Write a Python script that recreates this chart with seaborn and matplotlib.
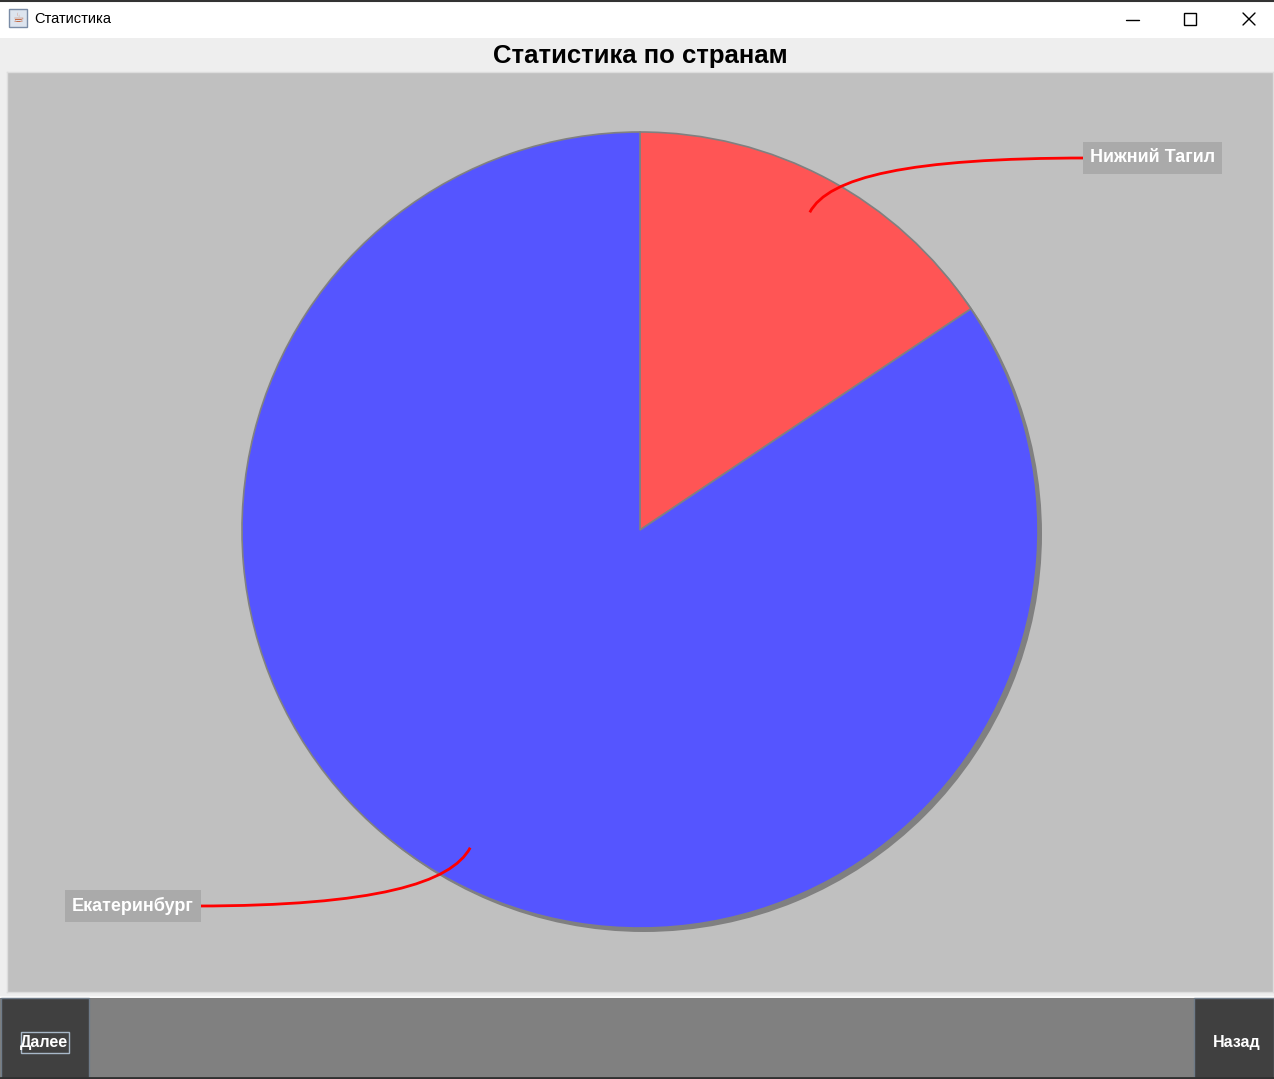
import numpy as np
import pandas as pd
import matplotlib
matplotlib.use("Agg")
import matplotlib.pyplot as plt
import seaborn as sns
from matplotlib.patches import Rectangle, PathPatch
from matplotlib.path import Path

# data
cities = ["Нижний Тагил", "Екатеринбург"]
counts = [5, 27]
slice_colors = ["#ff5555", "#5555ff"]

W, H = 1274, 1079
sns.set_style("white")
plt.rcParams['font.family'] = ['Liberation Sans', 'DejaVu Sans']

df = pd.DataFrame({"city": cities, "count": counts})

fig = plt.figure(figsize=(W / 100, H / 100), dpi=100)

# window chrome (pixel coords, y down)
bg = fig.add_axes([0, 0, 1, 1])
bg.set_xlim(0, W)
bg.set_ylim(H, 0)
bg.axis("off")
bg.add_patch(Rectangle((0, 0), W, H, fc="#eeeeee", ec="none"))
bg.add_patch(Rectangle((0, 0), W, 38, fc="white", ec="none"))
bg.plot([0, W], [0.5, 0.5], color="#333333", lw=1.5)
# java icon
bg.add_patch(Rectangle((9, 9), 18, 18, fc="#dde4ee", ec="#7a8ca6", lw=1))
bg.text(18, 18, "☕", ha="center", va="center", fontsize=9, color="#c05020",
        family=["DejaVu Sans"])
bg.text(34, 19, "Статистика", ha="left", va="center", fontsize=10.5,
        color="black", family=["Liberation Sans"])
# min / max / close
bg.plot([1126, 1139], [19.5, 19.5], color="black", lw=1)
bg.add_patch(Rectangle((1184, 13), 12, 12, fc="none", ec="black", lw=1))
bg.plot([1243, 1255], [13, 25], color="black", lw=1)
bg.plot([1243, 1255], [25, 13], color="black", lw=1)

bg.text(640, 56, "Статистика по странам", ha="center", va="center",
        fontsize=18.5, fontweight="bold", color="black")

# bottom buttons
bg.add_patch(Rectangle((0, 996), W, 2, fc="#f8f8f8", ec="none"))
bg.add_patch(Rectangle((0, 998), W, H - 998, fc="#808080", ec="none"))
bg.add_patch(Rectangle((0.5, 998), 88, H - 999, fc="#404040", ec="#6f7b88", lw=1))
bg.add_patch(Rectangle((1194, 998), W - 1194, H - 999, fc="#404040", ec="#6f7b88", lw=1))
bg.plot([0, W], [1078, 1078], color="#303030", lw=2)
bg.text(44, 1043, "Далее", ha="center", va="center", fontsize=11.5,
        fontweight="bold", color="white")
bg.add_patch(Rectangle((20.5, 1031.5), 48, 21, fc="none", ec="#a8b8c8", lw=1))
bg.text(1237, 1043, "Назад", ha="center", va="center", fontsize=11.5,
        fontweight="bold", color="white")

# plot panel (pixel coords with y up)
x0, x1, ytop, ybot = 7, 1273, 72, 992
ax = fig.add_axes([x0 / W, (H - ybot) / H, (x1 - x0) / W, (ybot - ytop) / H])
ax.set_facecolor("#c0c0c0")
for s in ax.spines.values():
    s.set_color("#dddddd")
    s.set_linewidth(1)


def fy(y):
    return H - y


cx, cy, R = 640, fy(530), 398

# shadow
ax.pie([df["count"].sum()], colors=["#808080"], center=(cx + 4, cy - 4),
       radius=R, frame=True, wedgeprops=dict(edgecolor="none", linewidth=0))
ax.pie(df["count"], colors=slice_colors, center=(cx, cy), radius=R,
       startangle=90, counterclock=False, frame=True,
       wedgeprops=dict(edgecolor="#808080", linewidth=1.2))
ax.set_xlim(x0, x1)
ax.set_ylim(H - ybot, H - ytop)
ax.set_aspect("equal")
ax.set_xticks([])
ax.set_yticks([])

# labels with curved leader lines
fracs = df["count"] / df["count"].sum()
cum = np.concatenate([[0], np.cumsum(fracs)[:-1]])
label_pos = [(1088, fy(158), "left"), (196, fy(906), "right")]
for i, (lx, ly, side) in enumerate(label_pos):
    ang = np.deg2rad(90 - 360 * (cum[i] + fracs[i] / 2))
    dx, dy = np.cos(ang), np.sin(ang)
    ax_, ay_ = cx + 0.905 * R * dx, cy + 0.905 * R * dy
    p1 = (ax_ + 40 * dx, ay_ + 40 * dy)
    sgn = 1 if side == "left" else -1
    p2 = (lx - sgn * 180, ly)
    path = Path([(ax_, ay_), p1, p2, (lx, ly)],
                [Path.MOVETO, Path.CURVE4, Path.CURVE4, Path.CURVE4])
    ax.add_patch(PathPatch(path, fc="none", ec="red", lw=2))
    ax.text(lx + sgn * 2, ly, df["city"][i], ha=side, va="center",
            fontsize=13, fontweight="bold", color="white",
            bbox=dict(boxstyle="square,pad=0.4", fc="#aaaaaa", ec="none"))

fig.savefig("out.png", dpi=100)
